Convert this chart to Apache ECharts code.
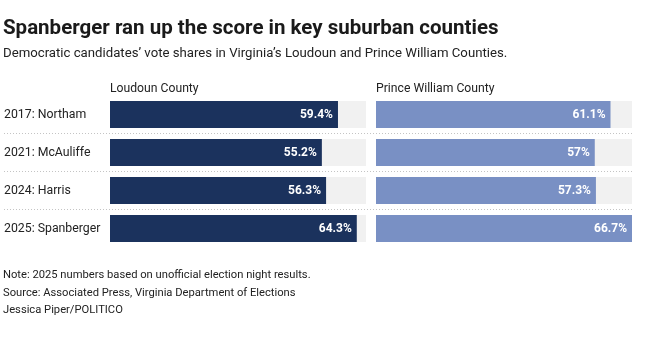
<!DOCTYPE html>
<html>
<head>
<meta charset="utf-8">
<script src="https://cdn.jsdelivr.net/npm/echarts@6/dist/echarts.min.js"></script>
<style>
  html, body { margin: 0; padding: 0; background: #fff; }
  #chart { width: 662px; height: 338px; }
</style>
</head>
<body>
<div id="chart"></div>
<script>
// Democratic vote shares (%) by election, two counties
const categories = ['2017: Northam', '2021: McAuliffe', '2024: Harris', '2025: Spanberger'];
const loudoun = [59.4, 55.2, 56.3, 64.3];
const princeWilliam = [61.1, 57, 57.3, 66.7];
const panelTitles = ['Loudoun County', 'Prince William County'];

const FONT = 'Roboto, "Noto Sans", sans-serif';
const TEXT = '#222';
// both panels share the same scale, running to the largest share
const axisMax = Math.max(...loudoun, ...princeWilliam);

const gridTop = 95.5;
const gridHeight = 152;

function valueAxis(gridIndex) {
  return { type: 'value', gridIndex, min: 0, max: axisMax, show: false };
}
function catAxis(gridIndex, extra) {
  return Object.assign({
    type: 'category', gridIndex, data: categories, inverse: true,
    axisLine: { show: false }, axisTick: { show: false },
    axisLabel: { show: false }, splitLine: { show: false }
  }, extra || {});
}
function barSeries(idx, data, color) {
  return {
    type: 'bar', xAxisIndex: idx, yAxisIndex: idx, data,
    barWidth: 27, silent: true,
    itemStyle: { color },
    showBackground: true,
    backgroundStyle: { color: '#f1f1f1' },
    label: {
      show: true, position: 'insideRight', distance: 5,
      color: '#fff', fontFamily: FONT, fontWeight: 'bold', fontSize: 12,
      formatter: p => p.value + '%'
    }
  };
}
function textBlock(text, left, top, size, weight, color) {
  return {
    text, left, top, padding: 0,
    textStyle: { fontFamily: FONT, fontSize: size, fontWeight: weight || 'normal', color: color || TEXT }
  };
}

const chart = echarts.init(document.getElementById('chart'), null, { renderer: 'canvas' });
chart.setOption({
  animation: false,
  backgroundColor: '#fff',
  textStyle: { fontFamily: FONT },
  title: [
    textBlock('Spanberger ran up the score in key suburban counties', 3, 18.5, 20.5, 'bold', '#1a1a1a'),
    textBlock('Democratic candidates\u2019 vote shares in Virginia\u2019s Loudoun and Prince William Counties.', 3, 47.5, 13.2),
    textBlock(panelTitles[0], 110, 82.5, 12.2),
    textBlock(panelTitles[1], 376, 82.5, 12.2),
    textBlock('Note: 2025 numbers based on unofficial election night results.', 3, 269.5, 11.2),
    textBlock('Source: Associated Press, Virginia Department of Elections', 3, 287.5, 11.2),
    textBlock('Jessica Piper/POLITICO', 3, 305, 11.2)
  ],
  grid: [
    { left: 110, width: 256, top: gridTop, height: gridHeight },
    { left: 376, width: 256, top: gridTop, height: gridHeight },
    { left: 4, width: 628, top: gridTop, height: gridHeight }
  ],
  xAxis: [valueAxis(0), valueAxis(1), valueAxis(2)],
  yAxis: [
    catAxis(0, {
      axisLabel: { show: true, align: 'left', margin: 106, color: TEXT,
        fontFamily: FONT, fontSize: 12.3 }
    }),
    catAxis(1),
    // dotted rules between the election rows, spanning both panels
    catAxis(2, {
      splitLine: { show: true, showMinLine: false, showMaxLine: false,
        lineStyle: { color: '#c4c4c4', type: [1, 2], width: 1 } }
    })
  ],
  series: [
    barSeries(0, loudoun, '#1b325d'),
    barSeries(1, princeWilliam, '#7990c4')
  ]
});
</script>
</body>
</html>
